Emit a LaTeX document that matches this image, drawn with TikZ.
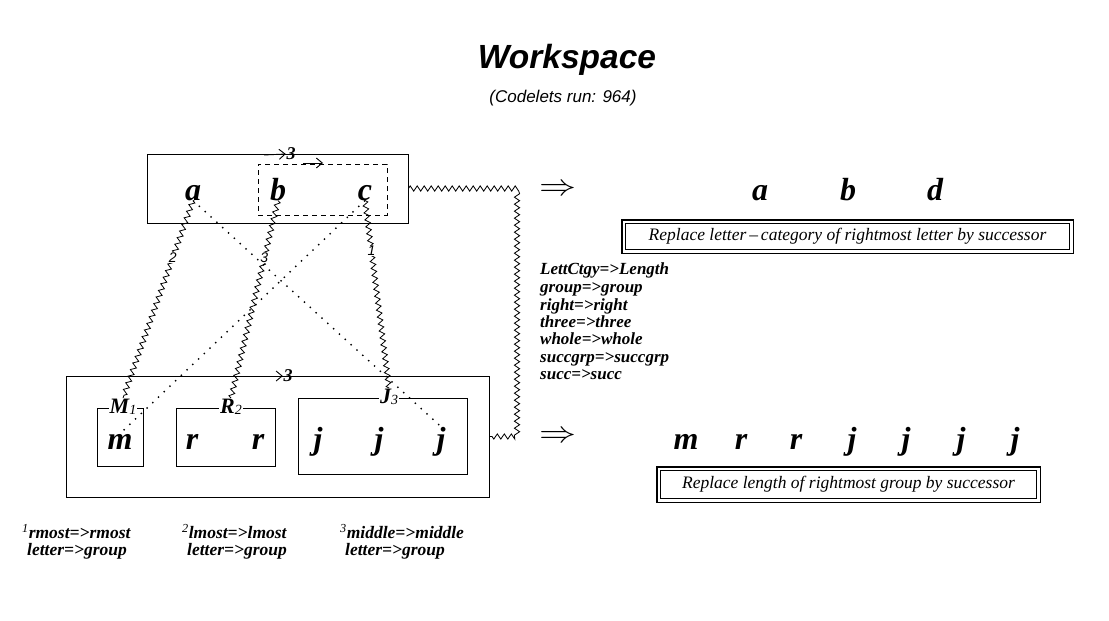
\documentclass[tikz,border=0pt]{standalone}
\usepackage{fontspec}
\usepackage{graphicx}
\setmainfont{Liberation Serif}
\setsansfont{Liberation Sans}
\usetikzlibrary{decorations.pathmorphing,arrows.meta}
\begin{document}
\begin{tikzpicture}[x=1pt,y=-1pt,
  letter/.style={font=\fontsize{32}{32}\selectfont\bfseries\itshape, inner sep=0pt, anchor=base},
  grp/.style={draw, line width=0.9pt, inner sep=0pt},
  glab/.style={font=\fontsize{22}{22}\selectfont\bfseries\itshape, fill=white, inner sep=1pt},
  zz/.style={decorate, decoration={zigzag, segment length=7pt, amplitude=2.6pt}, line width=0.8pt},
  wire/.style={decorate, decoration={zigzag, segment length=7pt, amplitude=2.6pt}, line width=0.8pt},
  dots/.style={line width=1.4pt, dash pattern=on 1.4pt off 6.5pt},
  arr/.style={-{Straight Barb[length=6pt,width=10pt]}, line width=0.9pt},
  numlab/.style={font=\fontsize{18}{18}\selectfont\bfseries\itshape, inner sep=0.5pt},
  zlab/.style={font=\sffamily\itshape\fontsize{14}{14}\selectfont, fill=white, inner sep=0.5pt},
  rule/.style={draw, line width=0.8pt, inner sep=0pt, font=\fontsize{17.5}{17.5}\selectfont\itshape},
  fn/.style={font=\fontsize{17.5}{17}\selectfont\bfseries\itshape, align=left, anchor=north west, inner sep=0pt},
  imp/.style={inner sep=0pt}
]
\useasboundingbox[fill=white] (0,0) rectangle (1109,621);

% title
\node[font=\sffamily\bfseries\itshape\fontsize{33.5}{33.5}\selectfont, anchor=base] (title) at (567,68) {Workspace};
\node[font=\sffamily\itshape\fontsize{17}{17}\selectfont, anchor=base] (sub) at (563,102) {(Codelets run: 964)};

% top string box
\node[grp, minimum width=261pt, minimum height=69pt] (top) at (277.5,188.5) {};
\node[grp, dashed, dash pattern=on 5pt off 4pt, minimum width=129pt, minimum height=51pt] (dbox) at (322.5,189.5) {};
\node[letter] (a) at (193,200) {a};
\node[letter] (b) at (278,200) {b};
\node[letter] (c) at (365,200) {c};

% bottom string box
\node[grp, minimum width=423pt, minimum height=121pt] (bot) at (277.5,436.5) {};
\node[grp, minimum width=46pt, minimum height=58pt] (Mbox) at (120,437) {};
\node[grp, minimum width=99pt, minimum height=58pt] (Rbox) at (225.5,437) {};
\node[grp, minimum width=169pt, minimum height=76pt] (Jbox) at (382.5,436) {};
\node[glab] (Ml) at (123,407) {M\raisebox{-1pt}{\mdseries\fontsize{14}{14}\selectfont 1}};
\node[glab] (Rl) at (231,407) {R\raisebox{-1pt}{\mdseries\fontsize{14}{14}\selectfont 2}};
\node[glab] (Jl) at (389,397) {J\raisebox{-1pt}{\mdseries\fontsize{14}{14}\selectfont 3}};
\node[letter] (m) at (120,449) {m};
\node[letter] (r1) at (192,449) {r};
\node[letter] (r2) at (258,449) {r};
\node[letter] (j1) at (318,449) {j};
\node[letter] (j2) at (379,449) {j};
\node[letter] (j3) at (441,449) {j};

% bond arrows
\coordinate (t3s) at (264,155);
\node[numlab] (t3) at (291,154) {3};
\draw[arr] (t3s) -- (t3.west);
\coordinate (d1) at (303,163);
\coordinate (d2) at (323,163);
\draw[arr] (d1) -- (d2);
\coordinate (b3s) at (263,376);
\node[numlab] (b3) at (288,376) {3};
\draw[arr] (b3s) -- (b3.west);

% correspondences
\draw[zz] (a.south) -- node[zlab, pos=0.29] {2} (Ml.north);
\draw[zz] (b.south) -- node[zlab, pos=0.29] {3} (Rl.north);
\draw[zz] (c.south) -- node[zlab, pos=0.27] {1} (Jl.north);
\draw[dots] (a.south) -- (j3.north);
\draw[dots] (c.south) -- (m.north);

% wire from top box to bottom box
\coordinate (w1) at (517,188.5);
\coordinate (w2) at (517,436.5);
\draw[wire] (top.east) -- (w1) -- (w2) -- (bot.east);

% implication arrows
\node[imp] (i1) at (558,190) {\scalebox{3.7}[3]{$\Rightarrow$}};
\node[imp] (i2) at (558,437) {\scalebox{3.7}[3]{$\Rightarrow$}};

% target strings
\node[letter] (ta) at (760,200) {a};
\node[letter] (tb) at (848,200) {b};
\node[letter] (td) at (935,200) {d};
\node[letter] (tm) at (686,449) {m};
\node[letter] (tr1) at (741,449) {r};
\node[letter] (tr2) at (796,449) {r};
\node[letter] (tj1) at (852,449) {j};
\node[letter] (tj2) at (906,449) {j};
\node[letter] (tj3) at (961,449) {j};
\node[letter] (tj4) at (1015,449) {j};

% rules
\node[rule, minimum width=444pt, minimum height=26pt] (rule1) at (847.5,236.5) {Replace letter\,--\,category of rightmost letter by successor};
\draw[line width=1.8pt] ([shift={(-3.5pt,3.5pt)}]rule1.north west) rectangle ([shift={(3.5pt,-3.5pt)}]rule1.south east);
\node[rule, minimum width=376pt, minimum height=28pt] (rule2) at (848.5,484.5) {Replace length of rightmost group by successor};
\draw[line width=1.8pt] ([shift={(-3.5pt,3.5pt)}]rule2.north west) rectangle ([shift={(3.5pt,-3.5pt)}]rule2.south east);

% slippages
\node[font=\fontsize{17}{17.5}\selectfont\bfseries\itshape, align=left, anchor=north west, inner sep=0pt] (slip) at (540,263)
 {LettCtgy=>Length\\group=>group\\right=>right\\three=>three\\whole=>whole\\succgrp=>succgrp\\succ=>succ};

% footnotes
\node[fn] (f1) at (22,524) {\textsuperscript{\mdseries 1}rmost=>rmost\\\hspace*{5pt}letter=>group};
\node[fn] (f2) at (182,524) {\textsuperscript{\mdseries 2}lmost=>lmost\\\hspace*{5pt}letter=>group};
\node[fn] (f3) at (340,524) {\textsuperscript{\mdseries 3}middle=>middle\\\hspace*{5pt}letter=>group};
\end{tikzpicture}
\end{document}
